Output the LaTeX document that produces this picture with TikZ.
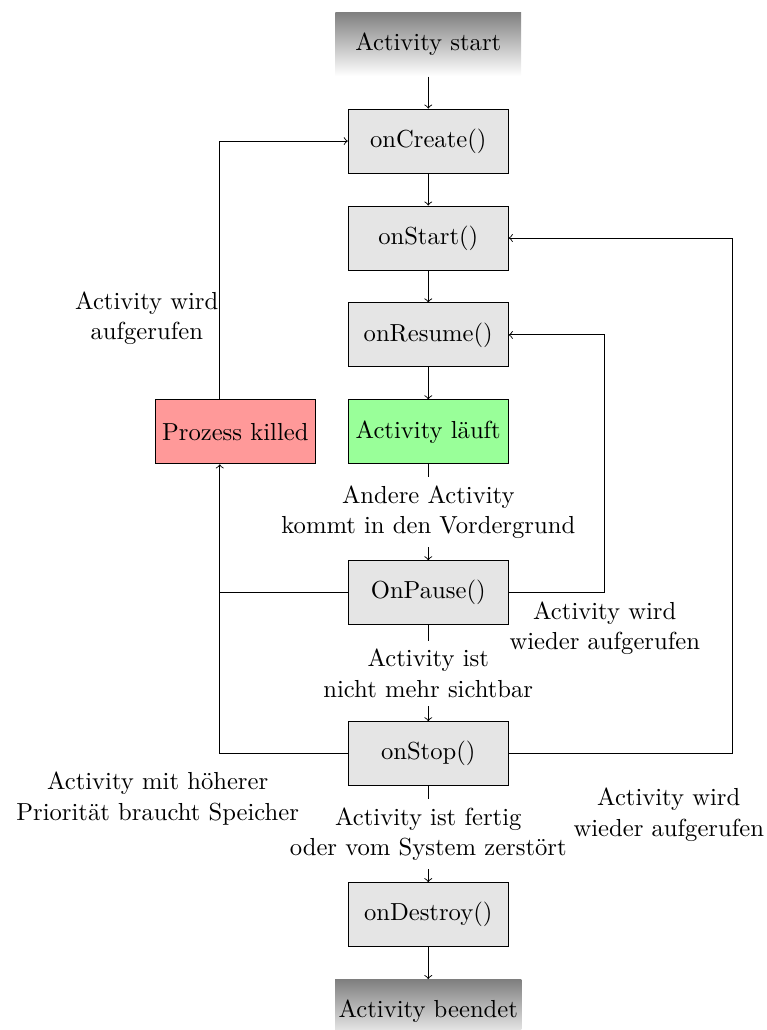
\documentclass[tikz,border=0pt,11pt]{standalone}
\usepackage{amsmath}
\usepackage{tikz}
\usetikzlibrary{positioning}

\begin{document}
\begin{tikzpicture}[
    state/.style={draw, fill=gray!20, minimum width=2.5cm, minimum height=1cm, inner xsep=2.5pt},
    endpoint/.style={top color=gray, bottom color=white, minimum width=2.9cm, minimum height=1cm, inner xsep=1.5pt},
    edgelbl/.style={fill=white, align=center},
    note/.style={align=center}
  ]

  % fixed frame of the page
  \useasboundingbox (0,0) rectangle (11.97,-16.09);

  % The main column
  \node[endpoint] (start) at (6.69,-0.69) {Activity start};
  \node[state, below=0.5cm of start] (create) {onCreate()};
  \node[state, below=0.5cm of create] (startm) {onStart()};
  \node[state, below=0.5cm of startm] (resume) {onResume()};
  \node[state, fill=green!40, below=0.5cm of resume] (running) {Activity läuft};
  \node[state, fill=red!40, left=0.5cm of running] (killed) {Prozess killed};
  \node[state, below=1.5cm of running] (pause) {OnPause()};
  \node[state, below=1.5cm of pause] (stop) {onStop()};
  \node[state, below=1.5cm of stop] (destroy) {onDestroy()};
  \node[endpoint, below=0.5cm of destroy] (finished) {Activity beendet};

  % Straight arrows
  \draw[->] (start) -- (create);
  \draw[->] (create) -- (startm);
  \draw[->] (startm) -- (resume);
  \draw[->] (resume) -- (running);
  \draw[->] (running) -- node[edgelbl] {Andere Activity\\kommt in den Vordergrund} (pause);
  \draw[->] (pause) -- node[edgelbl] {Activity ist\\nicht mehr sichtbar} (stop);
  \draw[->] (stop) -- node[edgelbl] {Activity ist fertig\\oder vom System zerstört} (destroy);
  \draw[->] (destroy) -- (finished);

  % Loops back on the right
  \draw[->] (pause.east) -- ++(1.5,0) coordinate (pcorner) |- (resume.east);
  \node[note, below] (pnote) at (pcorner) {Activity wird\\wieder aufgerufen};
  \draw[->] (stop.east) -- ++(3.5,0) coordinate (scorner) |- (startm.east);
  \node[note] (snote) at ([shift={(-1,-0.95)}]scorner) {Activity wird\\wieder aufgerufen};

  % Killed process on the left
  \draw[->] (stop.west) -- ++(-2,0) coordinate (kcorner) -- (kcorner |- killed.south);
  \draw (pause.west) -- (pause.west -| kcorner);
  \draw[->] (kcorner |- killed.north) |- (create.west);
  \node[note] (knote) at ([shift={(-0.97,-0.7)}]kcorner) {Activity mit höherer\\Priorität braucht Speicher};
  \node[note] (cnote) at ([shift={(-1.14,1.27)}]kcorner |- killed.north) {Activity wird\\aufgerufen};

\end{tikzpicture}
\end{document}
